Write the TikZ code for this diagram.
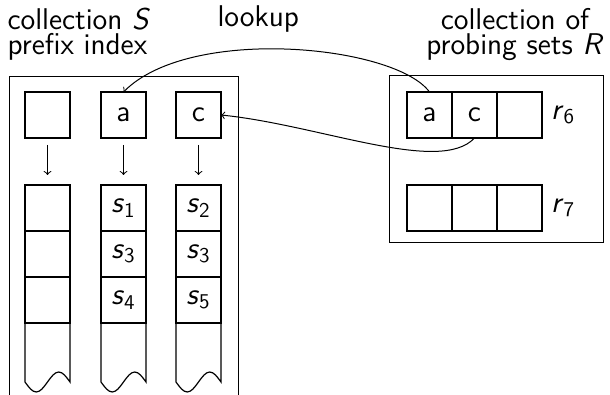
\documentclass[tikz,border=0pt]{standalone}
\usetikzlibrary{positioning}
\tikzstyle{cell} = [rectangle, minimum width = 22.5pt, minimum height = 23pt,
	inner sep = 0pt, outer sep = 0pt, text centered, line width = 0.6pt, draw = black]
\tikzstyle{title} = [inner sep = 0pt]
\tikzstyle{link} = [->, shorten <= 3.5pt, shorten >= 5pt]

\begin{document}
\begin{tikzpicture}[x = 0.5pt, y = -0.5pt, node distance = 0pt,
	font = \sffamily\fontsize{15}{12.5}\selectfont, line width = 0.5pt]

\clip (0,0) rectangle (610,395);

\node (titleS) [title, anchor = north west, align = left] at (7,8)
	{collection \textit{S}\\prefix index};
\node (lookup) [title, anchor = base west] at (217,27) {lookup};
\node (titleR) [title, anchor = north, align = center] at (515,8)
	{collection of\\probing sets \textit{R}};

\draw (9,77) rectangle (238,430);

\node (head0) [cell] at (47.5,115) {};
\node (head1) [cell] at (123.5,115) {a};
\node (head2) [cell] at (198.5,115) {c};

\node (list0a) [cell] at (47.5,208) {};
\node (list0b) [cell, below = of list0a] {};
\node (list0c) [cell, below = of list0b] {};

\node (list1a) [cell] at (123.5,208) {\textit{s}\textsubscript{1}};
\node (list1b) [cell, below = of list1a] {\textit{s}\textsubscript{3}};
\node (list1c) [cell, below = of list1b] {\textit{s}\textsubscript{4}};

\node (list2a) [cell] at (198.5,208) {\textit{s}\textsubscript{2}};
\node (list2b) [cell, below = of list2a] {\textit{s}\textsubscript{3}};
\node (list2c) [cell, below = of list2b] {\textit{s}\textsubscript{5}};

\draw [link] (head0.south) -- (list0a.north);
\draw [link] (head1.south) -- (list1a.north);
\draw [link] (head2.south) -- (list2a.north);

\draw [line width = 0.6pt] (list0c.south west) -- ++(0,59) sin ++(11.25,10) cos ++(11.25,-10)
	sin ++(11.25,-10) cos ++(11.25,10) -- (list0c.south east);
\draw [line width = 0.6pt] (list1c.south west) -- ++(0,59) sin ++(11.25,10) cos ++(11.25,-10)
	sin ++(11.25,-10) cos ++(11.25,10) -- (list1c.south east);
\draw [line width = 0.6pt] (list2c.south west) -- ++(0,59) sin ++(11.25,10) cos ++(11.25,-10)
	sin ++(11.25,-10) cos ++(11.25,10) -- (list2c.south east);

\draw (389,76) rectangle (603,243);

\node (r6cell0) [cell] at (429.5,115) {a};
\node (r6cell1) [cell, right = of r6cell0] {c};
\node (r6cell2) [cell, right = of r6cell1] {};
\node (r6label) [right = 1pt of r6cell2] {\textit{r}\textsubscript{6}};

\node (r7cell0) [cell] at (429.5,208) {};
\node (r7cell1) [cell, right = of r7cell0] {};
\node (r7cell2) [cell, right = of r7cell1] {};
\node (r7label) [right = 1pt of r7cell2] {\textit{r}\textsubscript{7}};

\draw [->] (r6cell0.north) .. controls (395,45) and (190,25) .. (head1.north);
\draw [->] (r6cell1.south) .. controls (440,175) and (320,125) .. (head2.east);

\end{tikzpicture}
\end{document}
